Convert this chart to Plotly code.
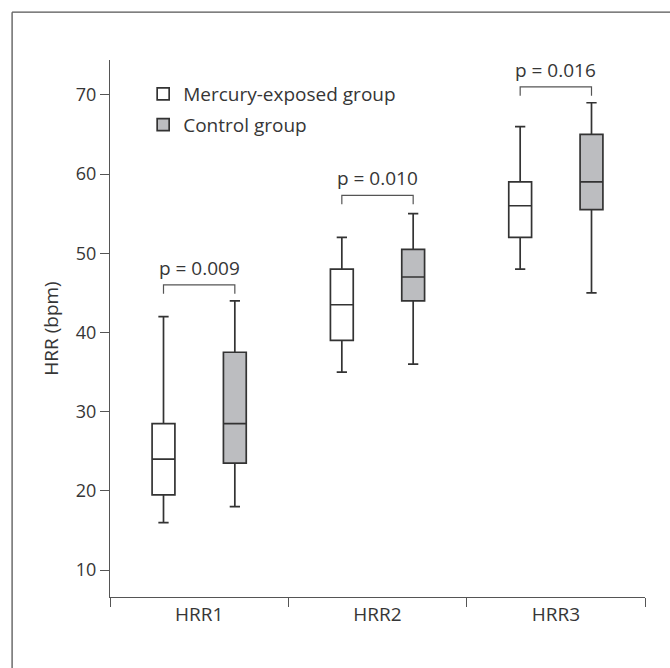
import plotly.graph_objects as go

categories = ["HRR1", "HRR2", "HRR3"]

# Mercury-exposed group (white boxes)
exp_min = [16, 35, 48]
exp_q1 = [19.5, 39, 52]
exp_median = [24, 43.5, 56]
exp_q3 = [28.5, 48, 59]
exp_max = [42, 52, 66]

# Control group (gray boxes)
ctl_min = [18, 36, 45]
ctl_q1 = [23.5, 44, 55.5]
ctl_median = [28.5, 47, 59]
ctl_q3 = [37.5, 50.5, 65]
ctl_max = [44, 55, 69]

p_labels = ["p = 0.009", "p = 0.010", "p = 0.016"]
bracket_y = [46.0, 57.3, 71.0]

yticks = [10, 20, 30, 40, 50, 60, 70]

FONT = "Open Sans"
TXT = "#363636"
LINE = "#333333"

fig = go.Figure()
fig.add_trace(go.Box(
    name="Mercury-exposed group", x=categories,
    q1=exp_q1, median=exp_median, q3=exp_q3,
    lowerfence=exp_min, upperfence=exp_max,
    fillcolor="white", line=dict(color=LINE, width=1.7),
    whiskerwidth=0.45, boxpoints=False, legendgroup="a",
    hoverinfo="y",
))
fig.add_trace(go.Box(
    name="Control group", x=categories,
    q1=ctl_q1, median=ctl_median, q3=ctl_q3,
    lowerfence=ctl_min, upperfence=ctl_max,
    fillcolor="#bcbdc0", line=dict(color=LINE, width=1.7),
    whiskerwidth=0.45, boxpoints=False, legendgroup="b",
    hoverinfo="y",
))

half = 0.2
drop = 1.1
for i, (lab, by) in enumerate(zip(p_labels, bracket_y)):
    fig.add_shape(
        type="path", xref="x", yref="y",
        path=f"M {i-half},{by-drop} L {i-half},{by} L {i+half},{by} L {i+half},{by-drop}",
        line=dict(color="#555555", width=1.2),
    )
    fig.add_annotation(
        x=i, y=by, xref="x", yref="y", text=lab, showarrow=False,
        yanchor="bottom", yshift=2, font=dict(family=FONT, size=19, color=TXT),
    )

# outer frame (top and left visible)
fig.add_shape(type="line", xref="paper", yref="paper",
              x0=-0.183, x1=1.1, y0=1.089, y1=1.089,
              line=dict(color="#555555", width=1.3))
fig.add_shape(type="line", xref="paper", yref="paper",
              x0=-0.183, x1=-0.183, y0=1.089, y1=-0.2,
              line=dict(color="#555555", width=1.3))

fig.update_layout(
    width=670, height=668,
    margin=dict(l=110, r=25, t=60, b=71),
    paper_bgcolor="white", plot_bgcolor="white",
    boxmode="group", boxgap=0.2, boxgroupgap=0.68,
    font=dict(family=FONT, color=TXT, size=19),
    showlegend=True,
    legend=dict(
        x=0.062, y=0.972, xanchor="left", yanchor="top",
        bgcolor="rgba(0,0,0,0)", tracegroupgap=3,
        font=dict(family=FONT, size=19, color=TXT),
    ),
    xaxis=dict(
        type="category", categoryorder="array", categoryarray=categories,
        range=[-0.5, 2.5], tickson="boundaries", ticks="outside", ticklen=9,
        tickcolor="#555555", showline=True, linecolor="#555555", linewidth=1.3,
        showgrid=False, zeroline=False, tickfont=dict(size=19),
    ),
    yaxis=dict(
        range=[6.6, 74.4], tickvals=yticks, ticks="outside", ticklen=9,
        tickcolor="#555555", showline=True, linecolor="#555555", linewidth=1.3,
        showgrid=False, zeroline=False, tickfont=dict(size=18),
        title=dict(text="HRR (bpm)", standoff=12, font=dict(size=19)),
    ),
)

fig.write_html("out.html", config={"displayModeBar": False},
               post_script="document.body.style.margin='0';")
